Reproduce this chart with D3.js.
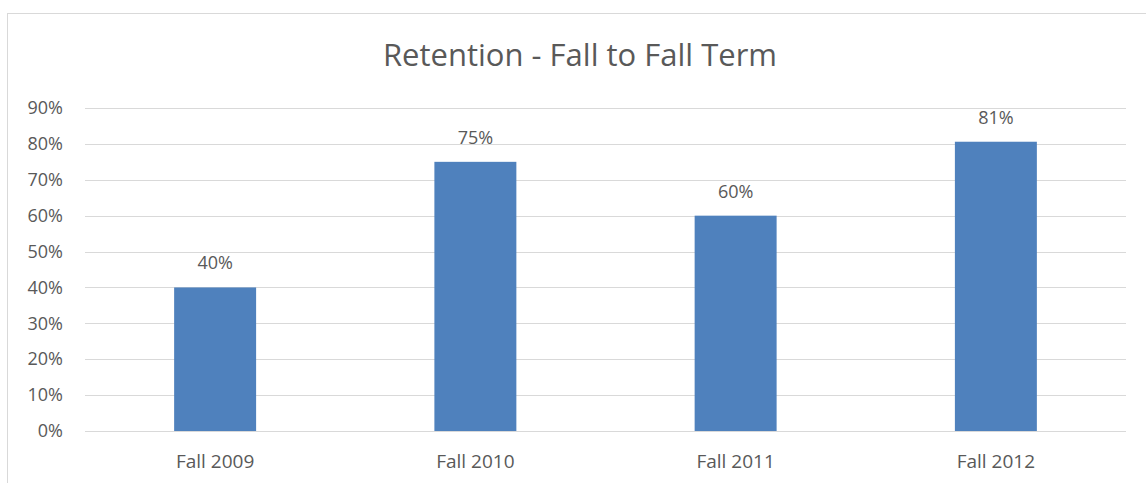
<!DOCTYPE html>
<html>
<head>
<meta charset="utf-8">
<script src="https://cdn.jsdelivr.net/npm/d3@7"></script>
<style>
  body { margin: 0; background: #fff; }
  text { font-family: "Open Sans", "Liberation Sans", sans-serif; fill: #595959; }
</style>
</head>
<body>
<svg width="1146" height="483"></svg>
<script>
  'use strict';

  const terms = ['Fall 2009', 'Fall 2010', 'Fall 2011', 'Fall 2012'];
  const retention = [0.40, 0.75, 0.60, 0.806];
  const yTicks = [0, 0.1, 0.2, 0.3, 0.4, 0.5, 0.6, 0.7, 0.8, 0.9];

  const svg = d3.select('svg');

  // chart frame (runs off right and bottom edge)
  svg.append('rect')
      .attr('x', 7.5).attr('y', 13.5)
      .attr('width', 1160).attr('height', 500)
      .attr('fill', 'none')
      .attr('stroke', '#d9d9d9');

  svg.append('text')
      .attr('x', 580).attr('y', 66)
      .attr('text-anchor', 'middle')
      .style('font-size', '31px')
      .text('Retention - Fall to Fall Term');

  const x = d3.scaleBand().domain(terms).range([85, 1126]).paddingInner(0.685).paddingOuter(0.3425);
  const y = d3.scaleLinear().domain([0, 0.9]).range([431, 108]);

  // gridlines
  svg.append('g')
    .selectAll('line').data(yTicks)
    .enter().append('line')
      .attr('x1', 85).attr('x2', 1126)
      .attr('y1', d => Math.round(y(d)) + 0.5)
      .attr('y2', d => Math.round(y(d)) + 0.5)
      .attr('stroke', '#d9d9d9')
      .attr('stroke-width', 1);

  const yAxis = svg.append('g')
      .attr('transform', 'translate(63,0)')
      .call(d3.axisLeft(y).tickValues(yTicks).tickFormat(d3.format('.0%')).tickSize(0).tickPadding(0));
  yAxis.select('.domain').remove();
  yAxis.selectAll('text').style('font-size', '18px').attr('fill', '#595959');

  svg.append('g')
    .selectAll('rect').data(retention)
    .enter().append('rect')
      .attr('x', (d, i) => x(terms[i]))
      .attr('width', x.bandwidth())
      .attr('y', d => y(d))
      .attr('height', d => y(0) - y(d))
      .attr('fill', '#4f81bd');

  svg.append('g')
    .selectAll('text').data(retention)
    .enter().append('text')
      .attr('x', (d, i) => x(terms[i]) + x.bandwidth() / 2)
      .attr('y', d => y(d) - 18)
      .attr('text-anchor', 'middle')
      .style('font-size', '18px')
      .text(d => d3.format('.0%')(d));

  const xAxis = svg.append('g')
      .attr('transform', 'translate(0,431)')
      .call(d3.axisBottom(x).tickSize(0).tickPadding(23.5));
  xAxis.select('.domain').remove();
  xAxis.selectAll('text').style('font-size', '19px').attr('fill', '#595959');
</script>
</body>
</html>
